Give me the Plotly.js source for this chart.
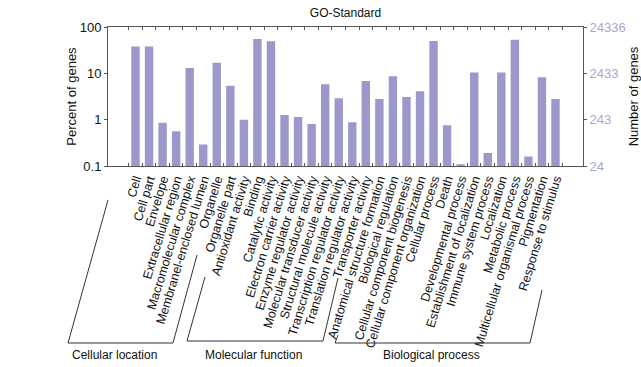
<!DOCTYPE html>
<html><head><meta charset="utf-8">
<script src="https://cdn.plot.ly/plotly-3.0.1.min.js"></script>
<style>html,body{margin:0;padding:0;background:#fff}#chart{width:641px;height:367px}</style>
</head><body><div id="chart"></div>
<script>
const categories = ["Cell","Cell part","Envelope","Extracellular region","Macromolecular complex","Membranel-enclosed lumen","Organelle","Organelle part",
"Antioxidant activity","Binding","Catalytic activity","Electron carrier activity","Enzyme regulator activity","Molecular transducer activity","Structural molecule activity","Transcription regulator activity","Translation regulator activity","Transporter activity",
"Anatomical structure formation","Biological regulation","Cellular component biogenesis","Cellular component organization","Cellular process","Death","Developmental process","Establishment of localization","Immune system process","Localization","Metabolic process","Multicellular organismal process","Pigmentation","Response to stimulus"];
const percentGenes = [38,38,0.86,0.56,13,0.29,17,5.4,
1.0,55,49,1.26,1.14,0.81,5.8,2.9,0.88,6.8,
2.8,8.6,3.1,4.1,50,0.76,0.109,10.4,0.19,10.4,53,0.16,8.2,2.8];
const leftTicks = [0.1,1,10,100];
const leftTickText = ["0.1","1","10","100"];
const rightTicks = [24.336,243.36,2433.6,24336];
const rightTickText = ["24","243","2433","24336"];
const groups = ["Cellular location","Molecular function","Biological process"];

const barColor = "#9c98cb";
const font = "Liberation Sans, Arial, sans-serif";
const traces = [
  {type:"bar", x:categories, y:percentGenes, marker:{color:barColor}, hoverinfo:"x+y", showlegend:false},
  {type:"scatter", mode:"markers", x:categories, y:categories.map(()=>null), yaxis:"y2", marker:{opacity:0}, showlegend:false, hoverinfo:"skip"}
];
function P(px,py){return [((px-108)/475).toFixed(4), ((166-py)/139).toFixed(4)];}
function path(pts){return pts.map((p,i)=>{const q=P(p[0],p[1]);return (i?"L":"M")+q[0]+","+q[1];}).join(" ");}
const lineStyle = {color:"#333", width:1};
const shapes = [
  {type:"path", xref:"paper", yref:"paper", path:path([[108,200],[68,343],[173,343],[197,255]]), line:lineStyle},
  {type:"path", xref:"paper", yref:"paper", path:path([[205,277],[187,341],[323,341],[338,278]]), line:lineStyle},
  {type:"path", xref:"paper", yref:"paper", path:path([[338,335],[335,343],[530,343],[542,290]]), line:lineStyle}
];
const labelPos = [[115,355],[253,355],[432,355]];
const annotations = groups.map((g,i)=>{const q=P(labelPos[i][0],labelPos[i][1]);return {text:g, xref:"paper", yref:"paper", x:+q[0], y:+q[1], showarrow:false, xanchor:"center", yanchor:"middle", font:{family:font,size:12,color:"#111"}};});
const layout = {
  width:641, height:367,
  margin:{l:108, r:58, t:27, b:201},
  paper_bgcolor:"#fff", plot_bgcolor:"#fff",
  font:{family:font, size:12, color:"#111"},
  title:{text:"GO-Standard", x:0.539, xanchor:"center", y:0.965, yanchor:"middle", font:{family:font,size:12,color:"#111"}},
  bargap:0.38,
  xaxis:{type:"category", tickmode:"array", tickvals:categories, ticktext:categories, tickangle:-73, tickfont:{family:font,size:12.5,color:"#111"}, showline:true, linecolor:"#555", linewidth:1, mirror:"ticks", ticks:"inside", ticklen:3, tickcolor:"#555", tickson:"boundaries", showgrid:false, automargin:false},
  yaxis:{type:"log", range:[-1,2], tickvals:leftTicks, ticktext:leftTickText, ticks:"outside", ticklen:3, tickcolor:"#555", showline:true, linecolor:"#555", linewidth:1, showgrid:false, zeroline:false, tickfont:{family:font,size:13,color:"#111"}, title:{text:"Percent of genes", font:{family:font,size:13,color:"#111"}, standoff:0}, automargin:false},
  yaxis2:{type:"log", overlaying:"y", side:"right", range:[Math.log10(24.336),Math.log10(24336)], tickvals:rightTicks, ticktext:rightTickText, ticks:"outside", ticklen:3, tickcolor:"#555", showline:true, linecolor:"#555", linewidth:1, showgrid:false, zeroline:false, tickfont:{family:font,size:13,color:"#a9a6d2"}, title:{text:"Number of genes", font:{family:font,size:13,color:"#111"}, standoff:8}, automargin:false},
  shapes:shapes, annotations:annotations
};
Plotly.newPlot("chart", traces, layout, {displayModeBar:false, staticPlot:true});
</script></body></html>
